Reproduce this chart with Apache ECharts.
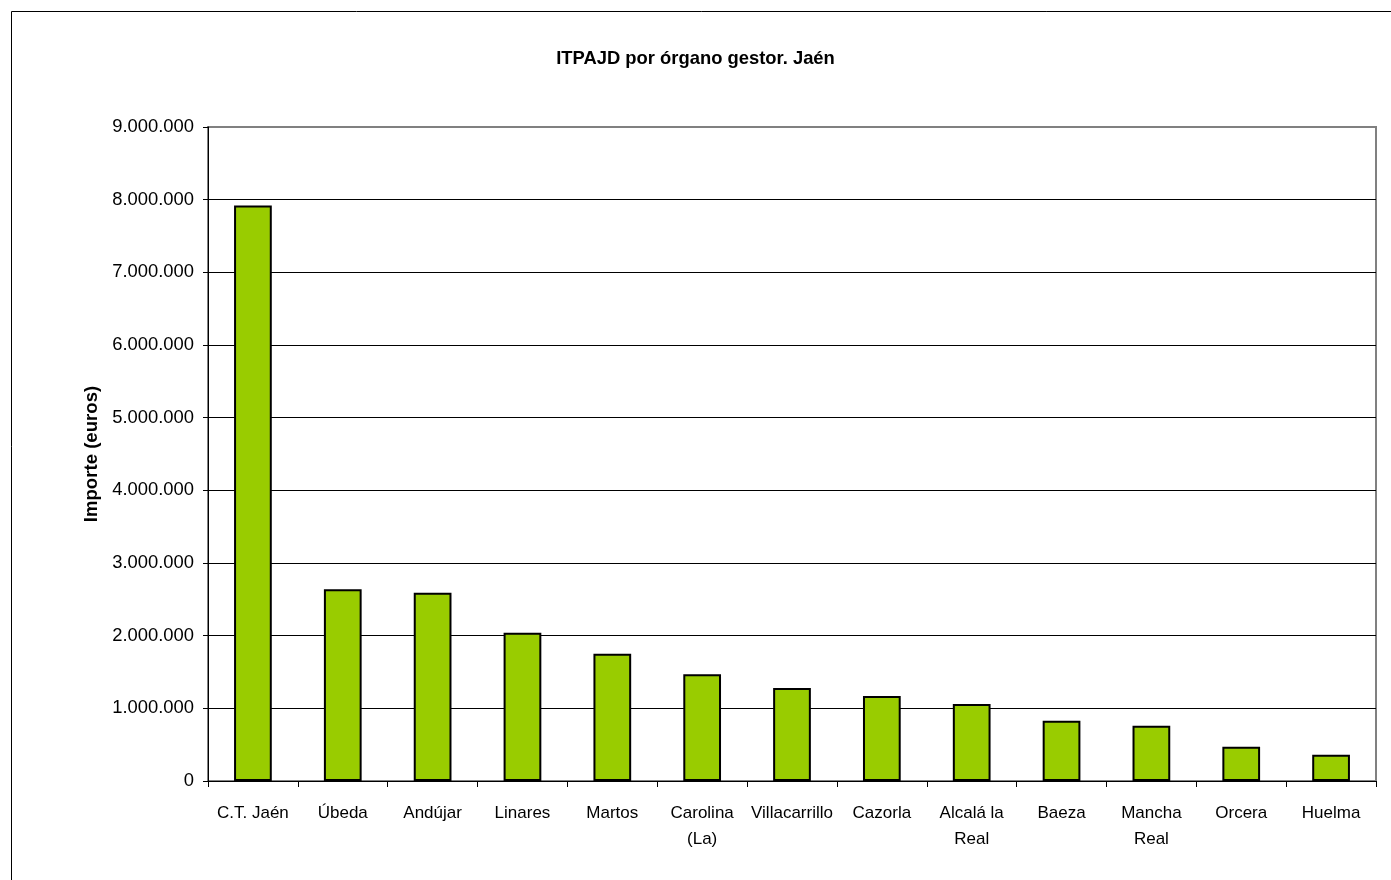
<!DOCTYPE html>
<html>
<head>
<meta charset="utf-8">
<script src="https://cdn.jsdelivr.net/npm/echarts@6/dist/echarts.min.js"></script>
<style>
html,body{margin:0;padding:0;background:#fff;}
#chart{width:1391px;height:880px;}
</style>
</head>
<body>
<div id="chart"></div>
<script>
const categories = ['C.T. Jaén','Úbeda','Andújar','Linares','Martos','Carolina\n(La)','Villacarrillo','Cazorla','Alcalá la\nReal','Baeza','Mancha\nReal','Orcera','Huelma'];
const values = [7920000, 2640000, 2590000, 2040000, 1750000, 1470000, 1280000, 1170000, 1060000, 830000, 760000, 470000, 360000];
const yTicks = [0, 1000000, 2000000, 3000000, 4000000, 5000000, 6000000, 7000000, 8000000, 9000000];
const titleText = 'ITPAJD por órgano gestor. Jaén';
const yAxisName = 'Importe (euros)';

function fmt(v){
  return String(Math.round(v)).replace(/\B(?=(\d{3})+(?!\d))/g, '.');
}

const gridColors = yTicks.map((t, i) => i === yTicks.length - 1 ? '#808080' : '#000');

const chart = echarts.init(document.getElementById('chart'), null, {renderer:'canvas'});
const FONT = '"Liberation Sans", Arial, sans-serif';
chart.setOption({
  animation:false,
  backgroundColor:'#fff',
  title:{
    text:titleText,
    left:'center',
    top:45,
    textStyle:{fontFamily:FONT,fontSize:18.4,fontWeight:'bold',color:'#000'}
  },
  graphic:[{
    type:'rect',
    shape:{x:11.5,y:11.5,width:1500,height:1000},
    style:{fill:'none',stroke:'#000',lineWidth:1},
    z:-1
  }],
  grid:{
    left:208, right:15, top:127, bottom:99,
    show:true, borderColor:'#808080', borderWidth:2, backgroundColor:'transparent'
  },
  xAxis:{
    type:'category',
    data:categories,
    axisLine:{show:true,lineStyle:{color:'#000',width:1}},
    axisTick:{show:true,length:6,lineStyle:{color:'#000'}},
    axisLabel:{fontFamily:FONT,fontSize:17,color:'#000',margin:19,lineHeight:26,interval:0}
  },
  yAxis:{
    type:'value',
    min:yTicks[0], max:yTicks[yTicks.length-1], interval:yTicks[1]-yTicks[0],
    name:yAxisName,
    nameLocation:'middle',
    nameGap:107,
    nameTextStyle:{fontFamily:FONT,fontSize:18.6,fontWeight:'bold',color:'#000'},
    axisLine:{show:true,lineStyle:{color:'#000',width:1}},
    axisTick:{show:true,length:5,lineStyle:{color:'#000'}},
    axisLabel:{fontFamily:FONT,fontSize:18.4,color:'#000',margin:14,formatter:fmt},
    splitLine:{show:true,lineStyle:{color:gridColors,width:1}}
  },
  series:[{
    type:'bar',
    data:values,
    barWidth:'42%',
    itemStyle:{color:'#99CC00',borderColor:'#000',borderWidth:2}
  }]
});
</script>
</body>
</html>
